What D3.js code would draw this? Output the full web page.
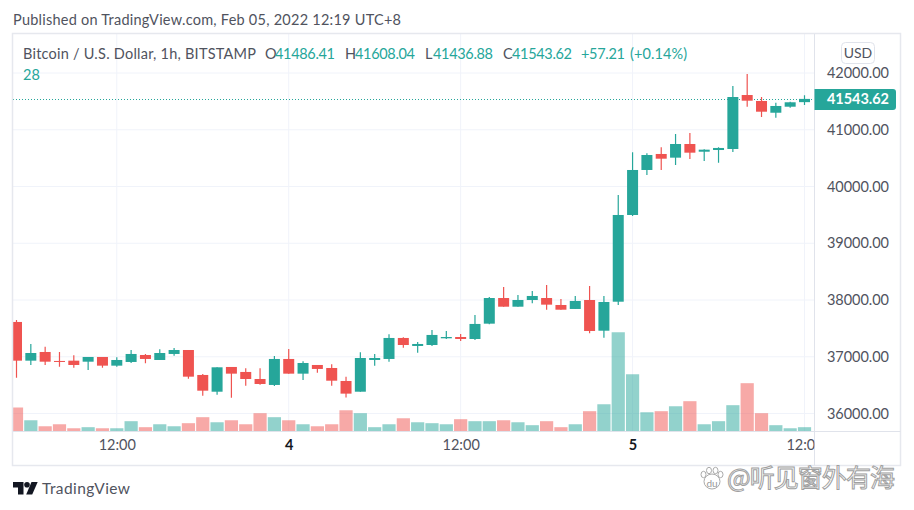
<!DOCTYPE html>
<html>
<head>
<meta charset="utf-8">
<script src="https://cdn.jsdelivr.net/npm/d3@7"></script>
<style>
  html, body { margin: 0; padding: 0; background: #fff; }
  svg { display: block; }
  text { font-family: Lato, sans-serif; }
</style>
</head>
<body>
<div id="chart-container"></div>
<script>
// hourly candles, Feb 3 05:00 to Feb 5 12:00
var opens = [37613,36931,37084,36926,36931,36913,36996,36843,36908,37031,36943,37049,37119,36679,36384,36820,36732,36608,36503,36961,36702,36855,36802,36573,36384,36943,36961,37331,37190,37207,37325,37348,37313,37583,38035,37882,38000,38035,37912,37842,38000,37459,37970,39498,40291,40573,40508,40749,40613,40643,40661,41612,41507,41300,41406,41486.41];
var highs = [37648,37225,37177,37084,37026,36996,36996,36990,37119,37049,37132,37155,37119,36697,36814,36820,36797,36797,37014,37137,36920,36855,36867,36649,37079,37049,37396,37343,37260,37472,37454,37401,37736,38053,38229,38088,38159,38265,38018,38071,38247,38071,39850,40603,40585,40691,40925,40943,40656,40691,41771,41982,41577,41477,41494,41608.04];
var lows = [36631,36855,36855,36825,36807,36767,36807,36825,36890,36885,36943,37019,36614,36314,36331,36278,36490,36508,36485,36702,36590,36719,36490,36280,36384,36843,36913,37160,37072,37190,37313,37278,37296,37572,37882,37882,37942,37829,37829,37842,37413,37336,37912,39480,40203,40291,40379,40485,40449,40420,40608,41406,41225,41212,41388,41436.88];
var closes = [36931,37066,36913,36908,36855,36996,36843,36943,37049,36961,37066,37119,36649,36402,36814,36702,36608,36520,36961,36702,36890,36785,36578,36350,36978,36978,37331,37207,37225,37384,37348,37313,37578,38035,37882,38000,38071,37918,37829,37983,37454,37965,39498,40291,40555,40490,40749,40596,40649,40679,41577,41512,41318,41419,41484,41543.62];
var volumes = [156,73,34,47,21,28,21,21,67,28,47,34,54,93,60,73,47,119,93,73,47,34,47,138,119,28,47,86,60,54,47,80,67,67,73,60,41,67,28,47,132,177,645,372,125,132,164,197,47,67,171,314,119,41,21,28];

var priceTicks = [36000,37000,38000,39000,40000,41000,42000];
var timeTickIndex = [7,19,31,43,55];
var timeTickLabels = ["12:00","4","12:00","5","12:00"];
var lastPrice = 41543.62;

var legendParts = [
  { t: "Bitcoin / U.S. Dollar, 1h, BITSTAMP", x: 23, w: 233, c: "#50535e" },
  { t: "O", x: 265, w: 9, c: "#50535e" },
  { t: "41486.41", x: 275, w: 60, c: "#26a69a" },
  { t: "H", x: 345, w: 9, c: "#50535e" },
  { t: "41608.04", x: 355, w: 60, c: "#26a69a" },
  { t: "L", x: 425, w: 7, c: "#50535e" },
  { t: "41436.88", x: 433, w: 60, c: "#26a69a" },
  { t: "C", x: 503, w: 8, c: "#50535e" },
  { t: "41543.62", x: 512, w: 60, c: "#26a69a" },
  { t: "+57.21", x: 581, w: 44, c: "#26a69a" },
  { t: "(+0.14%)", x: 630, w: 57, c: "#26a69a" }
];

const width = 914, height = 510;
const upColor = "#26a69a", downColor = "#ef5350", gridColor = "#f0f3fa", lineColor = "#e0e3eb", textColor = "#50535e";
const uiFont = "Lato, sans-serif", uiSize = 14.5;
const paneRight = 814.5, paneLeft = 13, paneTop = 34, paneBottom = 431.5, frameBottom = 465.5, frameRight = 900.5;

var svg = d3.select("#chart-container").append("svg")
  .attr("width", width)
  .attr("height", height);

var x = d3.scaleLinear().domain([0, 55]).range([16.5, 804.5]);
var y = d3.scaleLinear().domain([36000, 42000]).range([413.5, 73]);
var v = d3.scaleLinear().domain([0, 650]).range([paneBottom, paneBottom - 100]);

// first candle is cut by the left edge of the pane
svg.append("clipPath").attr("id", "pane")
  .append("rect")
  .attr("x", paneLeft).attr("y", paneTop)
  .attr("width", paneRight - paneLeft).attr("height", paneBottom - paneTop);

// grid
var grid = svg.append("g");
grid.selectAll(".h").data(priceTicks).enter().append("line")
  .attr("x1", paneLeft).attr("x2", paneRight)
  .attr("y1", function (d) { return y(d); }).attr("y2", function (d) { return y(d); })
  .attr("stroke", gridColor);
grid.selectAll(".v").data(timeTickIndex).enter().append("line")
  .attr("x1", function (d) { return x(d); }).attr("x2", function (d) { return x(d); })
  .attr("y1", paneTop).attr("y2", paneBottom)
  .attr("stroke", gridColor);

// volume
var idx = d3.range(opens.length);
svg.append("g").attr("clip-path", "url(#pane)").selectAll("rect").data(idx).enter().append("rect")
  .attr("x", function (i) { return x(i) - 6.6; })
  .attr("width", 13.2)
  .attr("y", function (i) { return v(volumes[i]); })
  .attr("height", function (i) { return paneBottom - v(volumes[i]); })
  .attr("fill", function (i) { return closes[i] >= opens[i] ? upColor : downColor; })
  .attr("fill-opacity", 0.5);

// last price line
svg.append("line")
  .attr("x1", paneLeft).attr("x2", paneRight)
  .attr("y1", Math.round(y(lastPrice)) + 0.5).attr("y2", Math.round(y(lastPrice)) + 0.5)
  .attr("stroke", upColor)
  .attr("stroke-dasharray", "1,2")
  .attr("shape-rendering", "crispEdges");

// candles
var candles = svg.append("g").attr("clip-path", "url(#pane)").selectAll("g").data(idx).enter().append("g");
candles.append("line")
  .attr("x1", function (i) { return x(i); }).attr("x2", function (i) { return x(i); })
  .attr("y1", function (i) { return y(highs[i]); }).attr("y2", function (i) { return y(lows[i]); })
  .attr("stroke-width", 1.2)
  .attr("stroke", function (i) { return closes[i] >= opens[i] ? upColor : downColor; });
candles.append("rect")
  .attr("x", function (i) { return x(i) - 5.5; })
  .attr("width", 11)
  .attr("y", function (i) { return y(Math.max(opens[i], closes[i])); })
  .attr("height", function (i) { return Math.max(1, Math.abs(y(opens[i]) - y(closes[i]))); })
  .attr("fill", function (i) { return closes[i] >= opens[i] ? upColor : downColor; });

// frame
var frame = svg.append("g").attr("fill", "none");
frame.append("rect")
  .attr("x", paneLeft - 0.5).attr("y", paneTop - 0.5)
  .attr("width", frameRight - paneLeft + 0.5).attr("height", frameBottom - paneTop + 0.5)
  .attr("stroke", "#e6e8ee").attr("stroke-width", 1.5);
frame.append("line")
  .attr("x1", paneRight).attr("x2", paneRight).attr("y1", paneTop).attr("y2", frameBottom)
  .attr("stroke", lineColor);
frame.append("line")
  .attr("x1", paneLeft).attr("x2", frameRight).attr("y1", paneBottom).attr("y2", paneBottom)
  .attr("stroke", lineColor);

// price axis
var priceAxis = d3.axisRight(y)
  .tickValues(priceTicks)
  .tickFormat(d3.format(".2f"))
  .tickSize(0)
  .tickPadding(0);
var priceG = svg.append("g")
  .attr("transform", "translate(" + 827 + ",0)")
  .call(priceAxis);
priceG.select(".domain").remove();
priceG.selectAll("text")
  .attr("font-size", uiSize)
  .attr("fill", textColor)
  .attr("textLength", 62)
  .style("font-family", uiFont);

// time axis
var timeAxis = d3.axisBottom(x)
  .tickValues(timeTickIndex)
  .tickFormat(function (d, i) { return timeTickLabels[i]; })
  .tickSize(0)
  .tickPadding(0);
var timeG = svg.append("g")
  .attr("transform", "translate(0,440)")
  .call(timeAxis);
timeG.select(".domain").remove();
timeG.selectAll("text")
  .attr("font-size", uiSize)
  .attr("fill", function (d, i) { return timeTickLabels[i].length == 1 ? "#131722" : textColor; })
  .attr("font-weight", function (d, i) { return timeTickLabels[i].length == 1 ? 700 : 400; })
  .style("font-family", uiFont);
// last label runs under the price scale
svg.append("clipPath").attr("id", "timeclip")
  .append("rect").attr("x", 0).attr("y", -10).attr("width", paneRight).attr("height", 40);
timeG.attr("clip-path", "url(#timeclip)");

// price tag
var tagY = y(lastPrice);
svg.append("path")
  .attr("d", "M" + paneRight + "," + (tagY - 10) + "H893a3,3 0 0 1 3,3V" + (tagY + 8) + "a3,3 0 0 1 -3,3H" + paneRight + "Z")
  .attr("fill", upColor);
svg.append("text")
  .attr("x", 827).attr("y", tagY + 5.5)
  .attr("font-size", uiSize).attr("font-weight", 700)
  .attr("textLength", 62)
  .attr("fill", "#fff")
  .text(d3.format(".2f")(lastPrice));

// currency button
svg.append("rect")
  .attr("x", 841.5).attr("y", 42.5).attr("width", 33).attr("height", 21).attr("rx", 4)
  .attr("fill", "#fff").attr("stroke", lineColor);
svg.append("text")
  .attr("x", 858).attr("y", 58).attr("text-anchor", "middle")
  .attr("font-size", 14).attr("fill", textColor)
  .text("USD");

// header and legend
svg.append("text")
  .attr("x", 13).attr("y", 25)
  .attr("font-size", uiSize).attr("fill", textColor)
  .attr("textLength", 388)
  .text("Published on TradingView.com, Feb 05, 2022 12:19 UTC+8");
svg.append("g").selectAll("text").data(legendParts).enter().append("text")
  .attr("x", function (d) { return d.x; })
  .attr("y", 59)
  .attr("font-size", uiSize)
  .attr("fill", function (d) { return d.c; })
  .attr("textLength", function (d) { return d.w; })
  .text(function (d) { return d.t; });
svg.append("text")
  .attr("x", 23).attr("y", 80)
  .attr("font-size", uiSize).attr("fill", upColor)
  .text(volumes[volumes.length - 1]);

// logo
var logo = svg.append("g").attr("transform", "translate(13,482)").attr("fill", "#131722");
logo.append("path").attr("d", "M0,0H10.5V12.5H5V5.5H0Z");
logo.append("circle").attr("cx", 14).attr("cy", 2.8).attr("r", 2.8);
logo.append("path").attr("d", "M18.5,0H24.7L19.2,12.5H13.2Z");
svg.append("text")
  .attr("x", 42).attr("y", 494)
  .attr("font-size", 15.5).attr("fill", "#50535e")
  .attr("textLength", 88)
  .text("TradingView");

// watermark
var wm = svg.append("g").attr("fill", "#fff").attr("stroke", "#aaa").attr("stroke-width", 1);
wm.append("ellipse").attr("cx", 712).attr("cy", 481.5).attr("rx", 8).attr("ry", 7.5);
wm.append("ellipse").attr("cx", 703.5).attr("cy", 474.5).attr("rx", 2.5).attr("ry", 3.2);
wm.append("ellipse").attr("cx", 709).attr("cy", 470.5).attr("rx", 2.5).attr("ry", 3.2);
wm.append("ellipse").attr("cx", 715.5).attr("cy", 470.5).attr("rx", 2.5).attr("ry", 3.2);
wm.append("ellipse").attr("cx", 720.5).attr("cy", 474.5).attr("rx", 2.5).attr("ry", 3.2);
svg.append("text")
  .attr("x", 712).attr("y", 486.5).attr("text-anchor", "middle")
  .attr("font-size", 10).attr("fill", "#999")
  .text("du");
svg.append("text")
  .attr("x", 727).attr("y", 487)
  .attr("font-size", 25)
  .attr("fill", "#fff").attr("stroke", "#a0a0a0").attr("stroke-width", 1)
  .attr("textLength", 168)
  .style("font-family", '"Noto Sans CJK SC", sans-serif')
  .text("@听见窗外有海");
</script>
</body>
</html>
